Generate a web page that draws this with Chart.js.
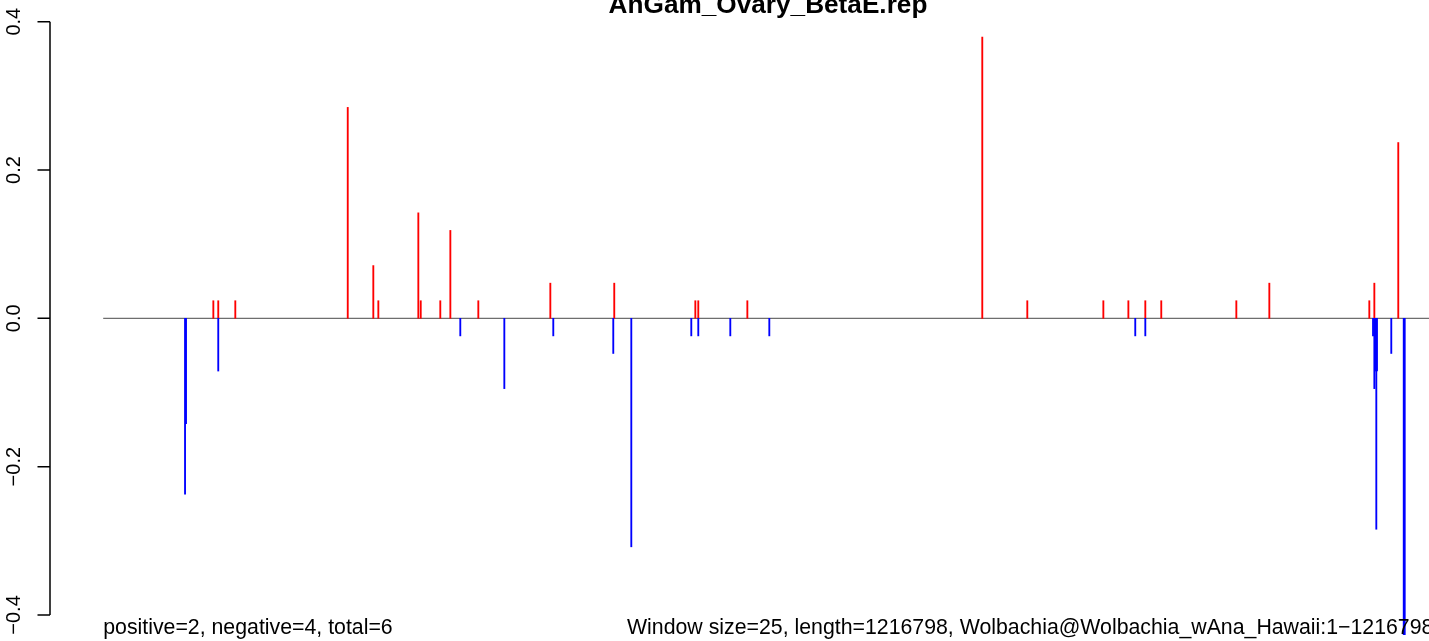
<!DOCTYPE html>
<html>
<head>
<meta charset="utf-8">
<script src="https://cdn.jsdelivr.net/npm/chart.js@4/dist/chart.umd.min.js"></script>
<style>
	html, body { margin: 0; padding: 0; background: #fff; }
	#wrap { width: 1429px; height: 641px; }
</style>
</head>
<body>
<div id="wrap"><canvas id="target" width="1429" height="641"></canvas></div>
<script>
// window positions along the genome (kb) and their scores
const genomeKb = 1216.798;

const posX = [100.8, 105.3, 120.9, 223.8, 247.2, 251.8, 288.4, 290.6, 308.5, 317.7,
	343.3, 409.2, 467.7, 541.9, 544.6, 589.5, 804.5, 845.7, 915.3, 938.2,
	953.7, 968.3, 1037.0, 1067.2, 1158.7, 1163.3, 1185.2];
const posY = [0.0237, 0.0237, 0.0237, 0.2844, 0.0711, 0.0237, 0.1422, 0.0237, 0.0237, 0.1185,
	0.0237, 0.0474, 0.0474, 0.0237, 0.0237, 0.0237, 0.3792, 0.0237, 0.0237, 0.0237,
	0.0237, 0.0237, 0.0237, 0.0474, 0.0237, 0.0474, 0.2370];

const negX = [74.9, 75.8, 105.3, 326.8, 367.1, 411.9, 466.8, 483.3, 538.2, 544.6,
	573.9, 609.6, 944.5, 953.7, 1162.1, 1163.3, 1164.2, 1165.1, 1165.7, 1178.8,
	1190.2, 1191.1];
const negY = [-0.2370, -0.1422, -0.0711, -0.0237, -0.0948, -0.0237, -0.0474, -0.3081, -0.0237, -0.0237,
	-0.0237, -0.0237, -0.0237, -0.0237, -0.0237, -0.0948, -0.0711, -0.2844, -0.0711, -0.0474,
	-0.4266, -0.4266];

const yTicks = [-0.4, -0.2, 0.0, 0.2, 0.4];
const yTickLabels = ['\u22120.4', '\u22120.2', '0.0', '0.2', '0.4'];

const mainTitle = 'AnGam_Ovary_BetaE.rep';
const leftNote = 'positive=2, negative=4, total=6';
const rightNote = 'Window size=25, length=1216798, Wolbachia@Wolbachia_wAna_Hawaii:1\u22121216798';

const toPoints = (xs, ys) => xs.map((x, i) => ({ x: x, y: ys[i] }));

// y axis, title and margin notes in the style of base graphics
const frame = {
	id: 'frame',
	afterDraw(chart) {
		const ctx = chart.ctx;
		const ys = chart.scales.y;
		const xs = chart.scales.x;
		const axisX = 50;

		ctx.save();
		ctx.strokeStyle = '#000';
		ctx.lineWidth = 1.5;
		ctx.beginPath();
		ctx.moveTo(axisX, ys.getPixelForValue(yTicks[yTicks.length - 1]));
		ctx.lineTo(axisX, ys.getPixelForValue(yTicks[0]));
		yTicks.forEach(v => {
			const py = ys.getPixelForValue(v);
			ctx.moveTo(axisX, py);
			ctx.lineTo(37.5, py);
		});
		ctx.stroke();

		ctx.fillStyle = '#000';
		ctx.font = '20px "Liberation Sans", Arial, sans-serif';
		ctx.textAlign = 'center';
		ctx.textBaseline = 'alphabetic';
		yTicks.forEach((v, i) => {
			ctx.save();
			ctx.translate(20, ys.getPixelForValue(v));
			ctx.rotate(-Math.PI / 2);
			ctx.fillText(yTickLabels[i], 0, 0);
			ctx.restore();
		});

		ctx.font = 'bold 26.2px "Liberation Sans", Arial, sans-serif';
		ctx.fillText(mainTitle, 768, 13);

		ctx.font = '21.3px "Liberation Sans", Arial, sans-serif';
		ctx.textAlign = 'left';
		ctx.fillText(leftNote, xs.getPixelForValue(0), 634);
		ctx.fillText(rightNote, 627, 634);
		ctx.restore();
	}
};

new Chart(document.getElementById('target'), {
	type: 'bar',
	data: {
		datasets: [{
			type: 'line',
			data: [{ x: 0, y: 0 }, { x: genomeKb, y: 0 }],
			borderColor: '#6e6e6e',
			borderWidth: 1.3,
			pointRadius: 0,
			order: 3
		}, {
			data: toPoints(posX, posY),
			backgroundColor: '#ff0000',
			barThickness: 1.2,
			borderWidth: 0,
			grouped: false,
			order: 2
		}, {
			data: toPoints(negX, negY),
			backgroundColor: '#0000ff',
			barThickness: 1.2,
			borderWidth: 0,
			grouped: false,
			order: 1
		}]
	},
	options: {
		responsive: false,
		animation: false,
		devicePixelRatio: 1,
		layout: { padding: 0 },
		plugins: {
			legend: { display: false },
			tooltip: { enabled: false },
			title: { display: false }
		},
		scales: {
			x: { type: 'linear', offset: false, min: -94.44, max: 1213.32, display: false },
			y: { type: 'linear', min: -0.4351, max: 0.4292, display: false }
		}
	},
	plugins: [frame]
});
</script>
</body>
</html>
